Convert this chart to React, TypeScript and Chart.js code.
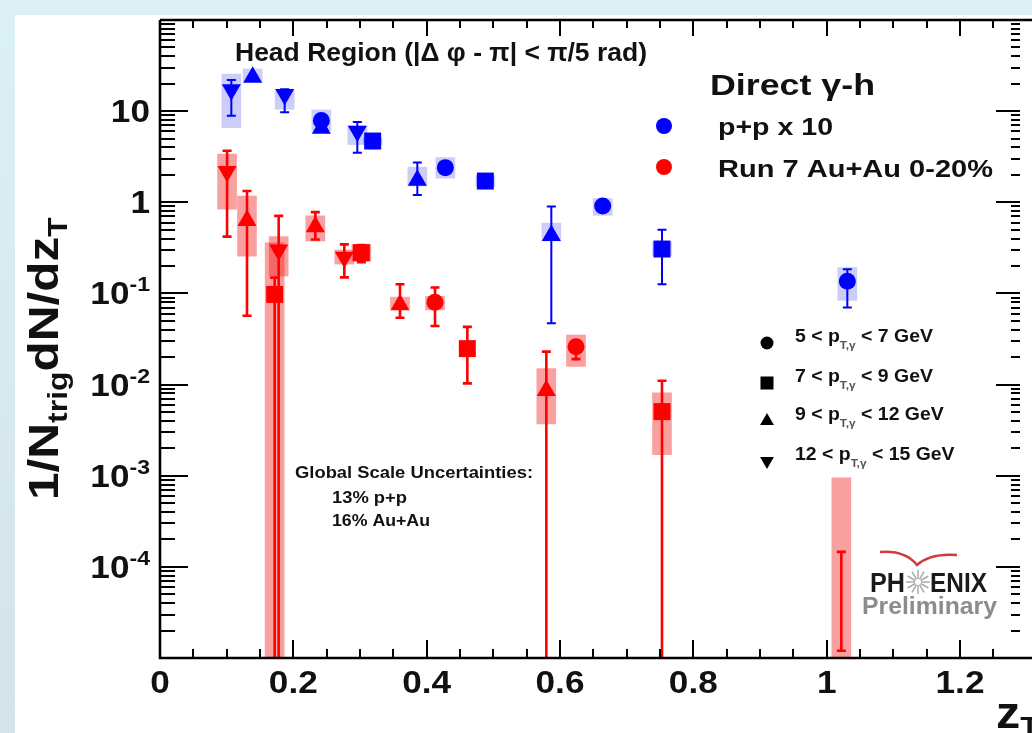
import React, { useEffect, useRef } from 'react';
import { Chart, registerables } from 'chart.js';

Chart.register(...registerables);

// ---------------- axes ----------------
const X_MIN = 0;
const X_MAX = 1.29;
const Y_MIN = 1e-5;
const Y_MAX = 100;
const xTickValues = [0, 0.2, 0.4, 0.6, 0.8, 1.0, 1.2];
const xTickLabels = ['0', '0.2', '0.4', '0.6', '0.8', '1', '1.2'];
const yTickValues = [10, 1, 0.1, 0.01, 0.001, 0.0001];
const yTickBase = ['10', '1', '10', '10', '10', '10'];
const yTickExp = ['', '', '-1', '-2', '-3', '-4'];

// lower edge consistent with zero: runs off the bottom of the log axis
const ZERO = 1e-9;

// ---------------- p+p x 10 (blue) ----------------
// 5 < pT < 7 GeV (circles)
const ppCircleZ = [0.242, 0.428, 0.664, 1.031];
const ppCircleY = [7.9, 2.4, 0.91, 0.136];
const ppCircleErrLo = [null, null, null, 0.07];
const ppCircleErrHi = [null, null, null, 0.184];
const ppCircleSysLo = [null, 1.84, 0.72, 0.084];
const ppCircleSysHi = [null, 3.1, 1.1, 0.192];
// 7 < pT < 9 GeV (squares)
const ppSquareZ = [0.319, 0.488, 0.753];
const ppSquareY = [4.7, 1.71, 0.307];
const ppSquareErrLo = [null, null, 0.126];
const ppSquareErrHi = [null, null, 0.5];
const ppSquareSysLo = [4.3, 1.5, 0.26];
const ppSquareSysHi = [5.1, 1.95, 0.37];
// 9 < pT < 12 GeV (up triangles)
const ppUpZ = [0.139, 0.242, 0.386, 0.587];
const ppUpY = [23.5, 6.5, 1.75, 0.433];
const ppUpErrLo = [null, null, 1.2, 0.047];
const ppUpErrHi = [null, null, 2.73, 0.9];
const ppUpSysLo = [21, 6.1, 1.51, 0.376];
const ppUpSysHi = [29, 10.3, 2.43, 0.59];
// 12 < pT < 15 GeV (down triangles)
const ppDownZ = [0.107, 0.187, 0.296];
const ppDownY = [17.2, 15.2, 6.0];
const ppDownErrLo = [8.9, 9.7, 3.5];
const ppDownErrHi = [21.9, 17.4, 7.6];
const ppDownSysLo = [6.6, 10.5, 4.3];
const ppDownSysHi = [25.5, 16.7, 6.9];

// ---------------- Run 7 Au+Au 0-20% (red) ----------------
const auCircleZ = [0.4125, 0.624, 1.022];
const auCircleY = [0.08, 0.026, null]; // last central value is below the axis range
const auCircleErrLo = [0.044, 0.019, 1.2e-5];
const auCircleErrHi = [0.116, 0.03, 1.46e-4];
const auCircleSysLo = [0.066, 0.0158, ZERO];
const auCircleSysHi = [0.093, 0.035, 9.5e-4];

const auSquareZ = [0.172, 0.302, 0.461, 0.753];
const auSquareY = [0.0975, 0.28, 0.0248, 0.00505];
const auSquareErrLo = [ZERO, 0.22, 0.0103, ZERO];
const auSquareErrHi = [0.149, 0.34, 0.043, 0.011];
const auSquareSysLo = [ZERO, 0.225, null, 0.0017];
const auSquareSysHi = [0.36, 0.345, null, 0.0081];

const auUpZ = [0.1305, 0.233, 0.36, 0.5795];
const auUpY = [0.63, 0.54, 0.075, 0.0086];
const auUpErrLo = [0.057, 0.39, 0.054, ZERO];
const auUpErrHi = [1.33, 0.78, 0.126, 0.023];
const auUpSysLo = [0.257, 0.376, 0.067, 0.0037];
const auUpSysHi = [1.17, 0.71, 0.091, 0.015];

const auDownZ = [0.1006, 0.178, 0.2765];
const auDownY = [2.18, 0.3, 0.25];
const auDownErrLo = [0.42, ZERO, 0.15];
const auDownErrHi = [3.67, 0.71, 0.345];
const auDownSysLo = [0.84, 0.155, 0.21];
const auDownSysHi = [3.37, 0.42, 0.3];

// legend text
const seriesLabels = ['p+p x 10', 'Run 7 Au+Au 0-20%'];
const ptLow = ['5', '7', '9', '12'];
const ptHigh = ['7', '9', '12', '15'];
const ptStyles = ['circle', 'rect', 'triangle', 'triangleDown'];

const BLUE = '#0000ff';
const RED = '#ff0000';
const BLUE_BOX = 'rgba(40,50,230,0.24)';
const RED_BOX = 'rgba(240,20,20,0.40)';
const FONT = '"Liberation Sans", Arial, Helvetica, sans-serif';

type Group = {
  series: 'pp' | 'au';
  style: string;
  color: string;
  z: number[];
  y: (number | null)[];
  eLo: (number | null)[];
  eHi: (number | null)[];
  sLo: (number | null)[];
  sHi: (number | null)[];
};

const groups: Group[] = [
  { series: 'pp', style: 'circle', color: BLUE, z: ppCircleZ, y: ppCircleY, eLo: ppCircleErrLo, eHi: ppCircleErrHi, sLo: ppCircleSysLo, sHi: ppCircleSysHi },
  { series: 'pp', style: 'rect', color: BLUE, z: ppSquareZ, y: ppSquareY, eLo: ppSquareErrLo, eHi: ppSquareErrHi, sLo: ppSquareSysLo, sHi: ppSquareSysHi },
  { series: 'pp', style: 'triangle', color: BLUE, z: ppUpZ, y: ppUpY, eLo: ppUpErrLo, eHi: ppUpErrHi, sLo: ppUpSysLo, sHi: ppUpSysHi },
  { series: 'pp', style: 'triangleDown', color: BLUE, z: ppDownZ, y: ppDownY, eLo: ppDownErrLo, eHi: ppDownErrHi, sLo: ppDownSysLo, sHi: ppDownSysHi },
  { series: 'au', style: 'circle', color: RED, z: auCircleZ, y: auCircleY, eLo: auCircleErrLo, eHi: auCircleErrHi, sLo: auCircleSysLo, sHi: auCircleSysHi },
  { series: 'au', style: 'rect', color: RED, z: auSquareZ, y: auSquareY, eLo: auSquareErrLo, eHi: auSquareErrHi, sLo: auSquareSysLo, sHi: auSquareSysHi },
  { series: 'au', style: 'triangle', color: RED, z: auUpZ, y: auUpY, eLo: auUpErrLo, eHi: auUpErrHi, sLo: auUpSysLo, sHi: auUpSysHi },
  { series: 'au', style: 'triangleDown', color: RED, z: auDownZ, y: auDownY, eLo: auDownErrLo, eHi: auDownErrHi, sLo: auDownSysLo, sHi: auDownSysHi },
];

function boxData(series: string) {
  const out: any[] = [];
  groups.filter((g) => g.series === series).forEach((g) => {
    g.z.forEach((z, i) => {
      const lo = g.sLo[i];
      const hi = g.sHi[i];
      if (lo != null && hi != null) out.push({ x: z, y: [lo, hi] });
    });
  });
  return out;
}

function markerDataset(g: Group) {
  const radius = g.style === 'circle' ? 8.5 : g.style === 'rect' ? 12 : 11;
  return {
    type: 'scatter',
    label: `${g.series}-${g.style}`,
    data: g.z.map((z, i) => ({ x: z, y: g.y[i] })),
    pointStyle: g.style === 'triangleDown' ? 'triangle' : g.style,
    pointRotation: g.style === 'triangleDown' ? 180 : 0,
    pointRadius: radius,
    pointHoverRadius: radius,
    pointBackgroundColor: g.color,
    backgroundColor: g.color,
    pointBorderWidth: 0,
    borderWidth: 0,
    order: g.style === 'circle' ? 1 : 0,
  };
}

// ---------------- text helpers ----------------
type Seg = { t: string; size: number; dy?: number; color?: string };

function segWidth(ctx: CanvasRenderingContext2D, segs: Seg[], sx: number) {
  let w = 0;
  for (const s of segs) {
    ctx.font = `bold ${s.size}px ${FONT}`;
    w += ctx.measureText(s.t).width * sx;
  }
  return w;
}

function drawSegs(ctx: CanvasRenderingContext2D, segs: Seg[], x: number, y: number, sx = 1, color = '#111') {
  let cx = x;
  for (const s of segs) {
    ctx.font = `bold ${s.size}px ${FONT}`;
    const m = ctx.measureText(s.t).width;
    ctx.save();
    ctx.translate(cx, y + (s.dy || 0));
    ctx.scale(sx, 1);
    ctx.fillStyle = s.color || color;
    ctx.textBaseline = 'alphabetic';
    ctx.textAlign = 'left';
    ctx.fillText(s.t, 0, 0);
    ctx.restore();
    cx += m * sx;
  }
  return cx - x;
}

function fitText(ctx: CanvasRenderingContext2D, t: string, x: number, y: number, size: number, width: number, color = '#111') {
  ctx.font = `bold ${size}px ${FONT}`;
  const sx = width / ctx.measureText(t).width;
  drawSegs(ctx, [{ t, size }], x, y, sx, color);
}

function drawMarker(ctx: CanvasRenderingContext2D, style: string, x: number, y: number, r: number, color: string) {
  ctx.save();
  ctx.fillStyle = color;
  ctx.beginPath();
  if (style === 'circle') {
    ctx.arc(x, y, r, 0, Math.PI * 2);
  } else if (style === 'rect') {
    const h = r * Math.SQRT1_2;
    ctx.rect(x - h, y - h, 2 * h, 2 * h);
  } else {
    const dir = style === 'triangle' ? 1 : -1;
    ctx.moveTo(x, y - dir * r);
    ctx.lineTo(x + r * 0.866, y + dir * r * 0.5);
    ctx.lineTo(x - r * 0.866, y + dir * r * 0.5);
    ctx.closePath();
  }
  ctx.fill();
  ctx.restore();
}

function drawErrorBars(chart: any) {
  const { ctx, chartArea: a } = chart;
  const xs = chart.scales.x;
  const ys = chart.scales.y;
  ctx.save();
  ctx.beginPath();
  ctx.rect(a.left, a.top, a.right - a.left, a.bottom - a.top + 1);
  ctx.clip();
  for (const g of groups) {
    ctx.strokeStyle = g.color;
    ctx.lineWidth = g.series === 'pp' ? 2 : 2.6;
    g.z.forEach((z, i) => {
      const lo = g.eLo[i];
      const hi = g.eHi[i];
      if (lo == null || hi == null) return;
      const px = xs.getPixelForValue(z);
      const pLo = ys.getPixelForValue(lo);
      const pHi = ys.getPixelForValue(hi);
      const cap = 4.5;
      ctx.beginPath();
      ctx.moveTo(px, pLo);
      ctx.lineTo(px, pHi);
      ctx.moveTo(px - cap, pHi);
      ctx.lineTo(px + cap, pHi);
      if (lo > Y_MIN) {
        ctx.moveTo(px - cap, pLo);
        ctx.lineTo(px + cap, pLo);
      }
      ctx.stroke();
    });
  }
  ctx.restore();
}

function drawFrame(chart: any) {
  const { ctx, chartArea: a } = chart;
  const xs = chart.scales.x;
  const ys = chart.scales.y;
  const W = chart.width;
  ctx.save();
  ctx.strokeStyle = '#000';
  ctx.lineWidth = 2.6;
  ctx.beginPath();
  ctx.moveTo(a.left, a.top);
  ctx.lineTo(a.left, a.bottom);
  ctx.lineTo(W, a.bottom);
  ctx.moveTo(a.left, a.top);
  ctx.lineTo(W, a.top);
  ctx.stroke();

  ctx.lineWidth = 2;
  ctx.beginPath();
  for (let k = -5; k <= 2; k++) {
    for (let m = 1; m <= 9; m++) {
      const v = m * Math.pow(10, k);
      if (v < Y_MIN * 0.999 || v > Y_MAX * 1.001) continue;
      const py = Math.round(ys.getPixelForValue(v));
      const major = m === 1;
      ctx.moveTo(a.left, py);
      ctx.lineTo(a.left + (major ? 28 : 15), py);
      ctx.moveTo(a.right, py);
      ctx.lineTo(a.right - (major ? 24 : 9), py);
    }
  }
  for (let i = 0; i * 0.05 <= X_MAX + 1e-9; i++) {
    const v = i * 0.05;
    const px = Math.round(xs.getPixelForValue(v));
    const major = i % 4 === 0;
    ctx.moveTo(px, a.bottom);
    ctx.lineTo(px, a.bottom - (major ? 18 : 9));
    ctx.moveTo(px, a.top);
    ctx.lineTo(px, a.top + (major ? 16 : 8));
  }
  ctx.stroke();
  ctx.restore();

  // x tick labels
  ctx.save();
  xTickValues.forEach((v, i) => {
    const px = xs.getPixelForValue(v);
    const segs = [{ t: xTickLabels[i], size: 32 }];
    const w = segWidth(ctx, segs, 1.1);
    drawSegs(ctx, segs, px - w / 2, a.bottom + 35, 1.1);
  });
  // y tick labels
  yTickValues.forEach((v, i) => {
    const py = ys.getPixelForValue(v);
    const segs: Seg[] = [{ t: yTickBase[i], size: 32 }];
    if (yTickExp[i]) segs.push({ t: yTickExp[i], size: 21, dy: -13 });
    const w = segWidth(ctx, segs, 1.1);
    drawSegs(ctx, segs, 150 - w, py + 11, 1.1);
  });
  ctx.restore();

  // axis titles
  ctx.save();
  ctx.translate(58, 500);
  ctx.rotate(-Math.PI / 2);
  drawSegs(ctx, [
    { t: '1/N', size: 42 },
    { t: 'trig', size: 27, dy: 9 },
    { t: 'dN/dz', size: 42 },
    { t: 'T', size: 27, dy: 9 },
  ], 0, 0, 1.18);
  ctx.restore();
  drawSegs(ctx, [{ t: 'z', size: 44 }, { t: 'T', size: 28, dy: 8 }], 996, 728, 1.1);
}

function drawTexts(chart: any) {
  const ctx: CanvasRenderingContext2D = chart.ctx;
  ctx.save();
  fitText(ctx, 'Head Region (|\u0394 \u03c6 - \u03c0| < \u03c0/5 rad)', 235, 61, 25, 412);
  fitText(ctx, 'Direct \u03b3-h', 710, 95, 30, 165);
  drawMarker(ctx, 'circle', 664, 126, 8, BLUE);
  drawMarker(ctx, 'circle', 664, 167, 8, RED);
  fitText(ctx, seriesLabels[0], 718, 135, 24, 115);
  fitText(ctx, seriesLabels[1], 718, 177, 24, 275);

  const rowBase = [342, 382, 420, 460];
  ptLow.forEach((lo, i) => {
    drawMarker(ctx, ptStyles[i], 767, rowBase[i] + 1, ptStyles[i] === 'circle' ? 6.5 : ptStyles[i] === 'rect' ? 9.2 : 8, '#000');
    drawSegs(ctx, [
      { t: `${lo} < p`, size: 18 },
      { t: 'T,\u03b3', size: 11, dy: 7, color: '#555' },
      { t: ` < ${ptHigh[i]} GeV`, size: 18 },
    ], 795, rowBase[i], 1.08);
  });

  fitText(ctx, 'Global Scale Uncertainties:', 295, 478, 16, 238);
  fitText(ctx, '13% p+p', 332, 503, 16, 75);
  fitText(ctx, '16% Au+Au', 332, 526, 16, 98);

  // PHENIX Preliminary logo
  fitText(ctx, 'PH', 870, 592, 27, 35, '#1a1a1a');
  fitText(ctx, 'ENIX', 930, 592, 27, 57, '#1a1a1a');
  fitText(ctx, 'Preliminary', 862, 614, 24, 135, '#8c8c8c');
  ctx.strokeStyle = '#aaaaaa';
  ctx.lineWidth = 1.5;
  ctx.beginPath();
  for (let k = 0; k < 12; k++) {
    const ang = (k * Math.PI) / 6;
    ctx.moveTo(918 + Math.cos(ang) * 3, 582 + Math.sin(ang) * 3);
    ctx.lineTo(918 + Math.cos(ang) * 12, 582 + Math.sin(ang) * 12);
  }
  ctx.stroke();
  ctx.strokeStyle = '#d43a3a';
  ctx.lineWidth = 2.5;
  ctx.beginPath();
  ctx.moveTo(880, 552);
  ctx.quadraticCurveTo(905, 550, 917, 565);
  ctx.quadraticCurveTo(930, 553, 957, 555);
  ctx.stroke();
  ctx.restore();
}

const rootPlugin = {
  id: 'rootStyle',
  beforeDraw(chart: any) {
    const ctx = chart.ctx;
    const W = chart.width;
    const H = chart.height;
    const g = ctx.createLinearGradient(0, 0, 0, H);
    g.addColorStop(0, '#dcf1f4');
    g.addColorStop(1, '#d4e2ea');
    ctx.save();
    ctx.fillStyle = g;
    ctx.fillRect(0, 0, W, H);
    ctx.fillStyle = '#ffffff';
    ctx.fillRect(15, 15, W - 15, H - 15);
    ctx.restore();
  },
  afterDatasetDraw(chart: any, args: any) {
    const ds: any = chart.data.datasets[args.index];
    if (ds.errorBarsAfter) drawErrorBars(chart);
  },
  afterDraw(chart: any) {
    drawFrame(chart);
    drawTexts(chart);
  },
};

export default function App() {
  const ref = useRef<HTMLCanvasElement>(null);
  useEffect(() => {
    if (!ref.current) return;
    const chart = new Chart(ref.current, {
      type: 'scatter',
      data: {
        datasets: [
          {
            type: 'bar',
            label: 'Au+Au sys',
            data: boxData('au'),
            backgroundColor: RED_BOX,
            borderWidth: 0,
            barThickness: 19,
            grouped: false,
            clip: 0,
            order: 11,
          } as any,
          {
            type: 'bar',
            label: 'p+p sys',
            data: boxData('pp'),
            backgroundColor: BLUE_BOX,
            borderWidth: 0,
            barThickness: 19,
            grouped: false,
            clip: 0,
            order: 10,
            errorBarsAfter: true,
          } as any,
          ...groups.map((g) => markerDataset(g) as any),
        ],
      },
      options: {
        animation: false,
        responsive: false,
        events: [],
        layout: { padding: { left: 160, top: 20, right: 9, bottom: 75 } },
        scales: {
          x: { type: 'linear', min: X_MIN, max: X_MAX, offset: false, display: false },
          y: { type: 'logarithmic', min: Y_MIN, max: Y_MAX, display: false },
        },
        plugins: { legend: { display: false }, tooltip: { enabled: false } },
      },
      plugins: [rootPlugin],
    } as any);
    return () => chart.destroy();
  }, []);
  return (
    <div style={{ position: 'fixed', left: 0, top: 0, width: 1032, height: 733, overflow: 'hidden' }}>
      <canvas ref={ref} width={1032} height={733} style={{ display: 'block', width: 1032, height: 733 }} />
    </div>
  );
}
